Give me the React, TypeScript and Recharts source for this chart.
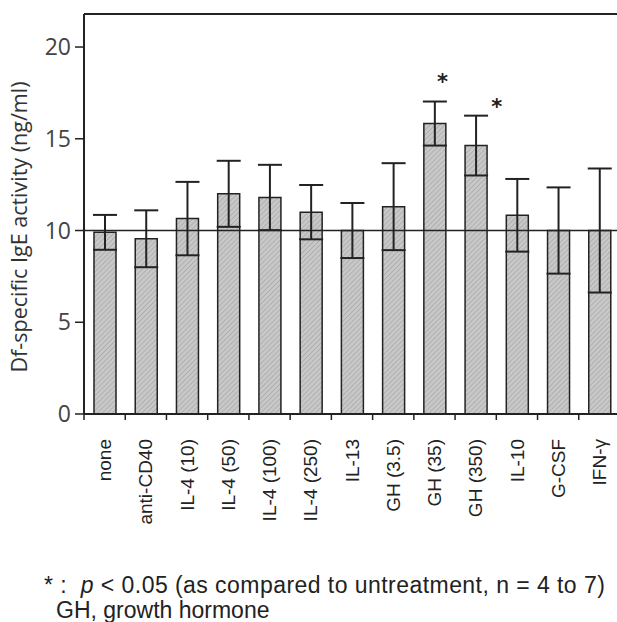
import React from 'react';
import { ComposedChart, Bar, ErrorBar, Scatter, XAxis, YAxis, ReferenceLine, Label } from 'recharts';

const categories = ['none', 'anti-CD40', 'IL-4 (10)', 'IL-4 (50)', 'IL-4 (100)', 'IL-4 (250)', 'IL-13', 'GH (3.5)', 'GH (35)', 'GH (350)', 'IL-10', 'G-CSF', 'IFN-γ'];
const means = [9.9, 9.55, 10.65, 12.0, 11.8, 11.0, 10.0, 11.3, 15.83, 14.63, 10.83, 10.0, 10.0];
const errors = [0.95, 1.55, 2.0, 1.8, 1.78, 1.48, 1.5, 2.37, 1.2, 1.63, 1.98, 2.35, 3.38];
const starLevels = [null, null, null, null, null, null, null, null, 18.4, 17.0, null, null, null];
const yTicks = [0, 5, 10, 15, 20];
const baseline = 10;
const yMax = 21.8;

const starNudge = [0, 0, 0, 0, 0, 0, 0, 0, 8, 21, 0, 0, 0];

const data = categories.map((c, i) => ({ name: c, mean: means[i], err: errors[i], star: starLevels[i] }));

const XTick = (props: any) => {
  const { x, y, payload } = props;
  const half = payload && typeof payload.offset === 'number' && payload.offset > 0 ? payload.offset : 20.6;
  const lx = x - half;
  const ty = y + 25;
  return (
    <g>
      <line x1={lx} y1={y} x2={lx} y2={y + 6} stroke="#222" strokeWidth={1.5} />
      <text
        x={x}
        y={ty}
        transform={`rotate(-90, ${x}, ${ty})`}
        textAnchor="end"
        dy="0.35em"
        fontFamily="'Liberation Sans', Arial, sans-serif"
        fontSize={19}
        fill="#222"
      >
        {payload.value}
      </text>
    </g>
  );
};

const StarShape = (props: any) => {
  const { cx, cy, payload } = props;
  if (!payload || payload.star == null || cx == null || cy == null || isNaN(cy)) return <g />;
  const i = categories.indexOf(payload.name);
  const fs = 21;
  return (
    <text x={cx + (starNudge[i] || 0)} y={cy + fs * 0.58} textAnchor="middle" fontFamily="'DejaVu Sans', sans-serif" fontWeight="bold" fontSize={fs} fill="#222">
      *
    </text>
  );
};

const YLabel = (props: any) => {
  const { viewBox } = props;
  const cy = viewBox.y + viewBox.height / 2 + 13;
  return (
    <text
      x={18}
      y={cy}
      transform={`rotate(-90, 18, ${cy})`}
      textAnchor="middle"
      dominantBaseline="central"
      fontFamily="'Open Sans', sans-serif"
      fontSize={21.5}
      fill="#333"
    >
      Df-specific IgE activity (ng/ml)
    </text>
  );
};

const footStyle: React.CSSProperties = {
  position: 'absolute',
  fontFamily: "'Liberation Sans', Arial, sans-serif",
  fontSize: 23,
  color: '#222',
  whiteSpace: 'nowrap',
  lineHeight: '26px',
};

export default function App() {
  return (
    <div style={{ position: 'absolute', left: 0, top: 0, width: 617, height: 622, overflow: 'hidden', background: '#fff' }}>
      <ComposedChart width={640} height={560} data={data} margin={{ top: 14, right: 20, bottom: 6, left: 0 }}>
        <defs>
          <pattern id="hatch" patternUnits="userSpaceOnUse" width="3.5" height="3.5" patternTransform="rotate(45)">
            <rect width="3.5" height="3.5" fill="#c8c8c8" />
            <line x1="0" y1="0" x2="0" y2="3.5" stroke="#a2a2a2" strokeWidth="1.2" />
          </pattern>
        </defs>
        <XAxis
          dataKey="name"
          interval={0}
          height={140}
          tickLine={false}
          tickSize={0}
          tickMargin={0}
          axisLine={{ stroke: '#222', strokeWidth: 2 }}
          tick={<XTick />}
        />
        <YAxis
          width={84}
          domain={[0, yMax]}
          ticks={yTicks}
          interval={0}
          tickSize={9}
          tickMargin={4}
          axisLine={{ stroke: '#222', strokeWidth: 2 }}
          tickLine={{ stroke: '#222', strokeWidth: 1.5 }}
          tick={{ fontFamily: "'Open Sans', sans-serif", fontSize: 23, fill: '#444' }}
        >
          <Label content={<YLabel />} />
        </YAxis>
        <ReferenceLine y={yMax} stroke="#222" strokeWidth={2} />
        <Bar dataKey="mean" barSize={22} fill="url(#hatch)" stroke="#222" strokeWidth={1.5} isAnimationActive={false}>
          <ErrorBar dataKey="err" width={12} stroke="#222" strokeWidth={2} direction="y" />
        </Bar>
        <ReferenceLine y={baseline} stroke="#222" strokeWidth={1.5} />
        <Scatter dataKey="star" shape={<StarShape />} isAnimationActive={false} />
      </ComposedChart>
      <div style={{ ...footStyle, left: 44, top: 572, letterSpacing: '0.45px' }}>
        *&nbsp;:&nbsp; <i>p</i> &lt; 0.05 (as compared to untreatment, n = 4 to 7)
      </div>
      <div style={{ ...footStyle, left: 56, top: 597 }}>
        GH, growth hormone
      </div>
    </div>
  );
}
